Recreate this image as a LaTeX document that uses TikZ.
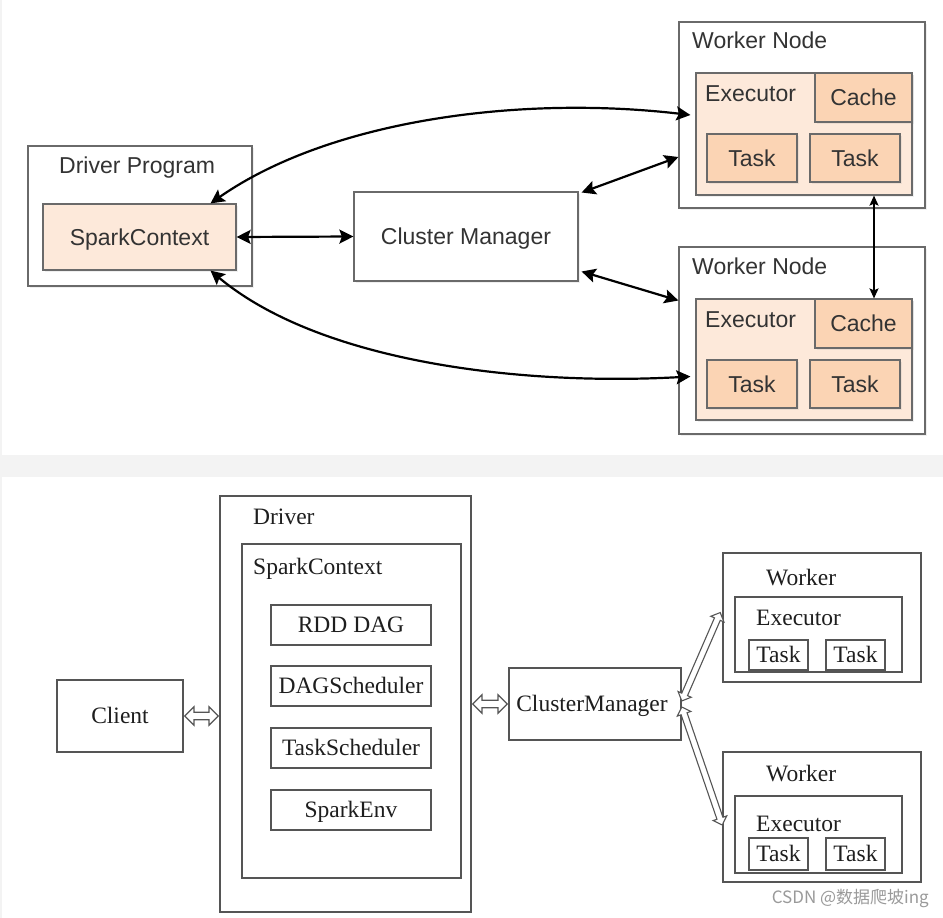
\documentclass[tikz,border=0pt]{standalone}
\usepackage{fontspec}
\setmainfont{Liberation Serif}
\setsansfont{Liberation Sans}
\newfontfamily\cjkfont{Noto Sans CJK SC}
\usetikzlibrary{arrows.meta,calc,shadows,shapes.arrows}
\definecolor{bandgray}{HTML}{F3F3F3}
\definecolor{topline}{HTML}{6A6A6A}
\definecolor{botline}{HTML}{555555}
\definecolor{toptext}{HTML}{333333}
\definecolor{bottext}{HTML}{1E1E1E}
\definecolor{peachlight}{HTML}{FDE9DA}
\definecolor{peachdark}{HTML}{FBD4B4}
\definecolor{wmark}{HTML}{9A9A9A}
\tikzset{
  topfont/.style={font=\sffamily\fontsize{23pt}{27pt}\selectfont, text=toptext},
  botfont/.style={font=\rmfamily\fontsize{23.5pt}{27pt}\selectfont, text=bottext},
  topbox/.style={draw=topline, line width=1.2pt, fill=white, inner sep=0pt,
     topfont, text height=16.5pt, text depth=0pt,
     drop shadow={shadow xshift=1.5pt, shadow yshift=-2pt, opacity=0.12}},
  execbox/.style={topbox, fill=peachlight},
  taskbox/.style={topbox, fill=peachdark},
  botbox/.style={draw=botline, line width=1.5pt, fill=white, inner sep=0pt,
     botfont, text height=15.5pt, text depth=0pt},
  toplabel/.style={topfont, anchor=base west, inner sep=0pt},
  botlabel/.style={botfont, anchor=base west, inner sep=0pt},
  solidarrow/.style={line width=2.2pt, black,
     {Stealth[length=14pt,width=14pt,inset=2.5pt]}-{Stealth[length=14pt,width=14pt,inset=2.5pt]}},
  thinarrow/.style={line width=1.6pt, black,
     {Stealth[length=10pt,width=9pt,inset=2pt]}-{Stealth[length=10pt,width=9pt,inset=2pt]}},
  hollowarr/.style={double arrow, draw=botline, fill=white, line width=1.1pt,
     inner sep=3.2pt, double arrow head extend=5.5pt, double arrow tip angle=90},
  hollowthin/.style={hollowarr, inner sep=2.6pt, double arrow head extend=4pt},
}
\begin{document}
\begin{tikzpicture}[x=1pt,y=-1pt]
% background and panels
\fill[bandgray] (0,0) rectangle (943,918);
\fill[white] (2,0) rectangle (943,455);
\fill[white] (2,477) rectangle (943,918);
\useasboundingbox (0,0) rectangle (943,918);

% ---------------- top panel ----------------
\node[topbox, minimum width=224pt, minimum height=140pt] (dp) at (140,216) {};
\node[toplabel] (dplab) at (59,173) {Driver Program};
\node[execbox, minimum width=193pt, minimum height=66pt] (sc) at (139.5,237) {SparkContext};

\node[topbox, minimum width=224pt, minimum height=89pt] (cm) at (466,236.5) {Cluster Manager};

\node[topbox, minimum width=246pt, minimum height=186pt] (w1) at (802,115) {};
\node[toplabel] (w1lab) at (692,48) {Worker Node};
\node[execbox, minimum width=216pt, minimum height=122pt] (e1) at (804,134) {};
\node[toplabel] (e1lab) at (705,101) {Executor};
\node[taskbox, minimum width=97pt, minimum height=49pt] (c1) at (863.5,97.5) {Cache};
\node[taskbox, minimum width=90pt, minimum height=48pt] (t11) at (752,158) {Task};
\node[taskbox, minimum width=90pt, minimum height=48pt] (t12) at (855,158) {Task};

\node[topbox, minimum width=246pt, minimum height=187pt] (w2) at (802,340.5) {};
\node[toplabel] (w2lab) at (692,274) {Worker Node};
\node[execbox, minimum width=216pt, minimum height=121pt] (e2) at (804,359.5) {};
\node[toplabel] (e2lab) at (705,327) {Executor};
\node[taskbox, minimum width=97pt, minimum height=49pt] (c2) at (863.5,323.5) {Cache};
\node[taskbox, minimum width=90pt, minimum height=48pt] (t21) at (752,384) {Task};
\node[taskbox, minimum width=90pt, minimum height=48pt] (t22) at (855,384) {Task};

% top connectors
\draw[solidarrow] (sc.east) -- (cm.west);
\draw[solidarrow] ($(cm.east)+(3,-44)$) -- ($(w1.west)+(0,42)$);
\draw[solidarrow] ($(cm.east)+(3,35)$) -- ($(w2.west)+(0,-40)$);
\draw[solidarrow] ($(sc.north)+(71,0)$) .. controls (330,120) and (520,95) .. ($(e1.west)+(-5,-19)$);
\draw[solidarrow] ($(sc.south)+(71,0)$) .. controls (320,362) and (520,386) .. ($(e2.west)+(-5,17)$);
\coordinate (vtop) at ($(e1.south)+(70,0)$);
\draw[thinarrow] (vtop) -- (vtop |- c2.north);

% ---------------- bottom panel ----------------
\node[botbox, minimum width=126pt, minimum height=72pt] (client) at (120,716) {Client};

\node[botbox, minimum width=251pt, minimum height=416pt] (drv) at (345.5,704) {};
\node[botlabel] (drvlab) at (253,524) {Driver};
\node[botbox, minimum width=219pt, minimum height=334pt] (spc) at (351.5,711) {};
\node[botlabel] (spclab) at (253,574) {SparkContext};
\node[botbox, minimum width=160pt, minimum height=40pt] (rdd) at (351,625) {RDD DAG};
\node[botbox, minimum width=160pt, minimum height=40pt] (dag) at (351,686) {DAGScheduler};
\node[botbox, minimum width=160pt, minimum height=40pt] (tsk) at (351,748) {TaskScheduler};
\node[botbox, minimum width=160pt, minimum height=40pt] (env) at (351,810) {SparkEnv};

\node[botbox, minimum width=172pt, minimum height=72pt] (cmb) at (595,704) {};
\node[botfont, inner sep=0pt, text height=15.5pt, text depth=0pt] (cmblab) at (592,704) {ClusterManager};

\node[botbox, minimum width=198pt, minimum height=129pt] (wk1) at (822,617.5) {};
\node[botlabel] (wk1lab) at (766,585) {Worker};
\node[botbox, minimum width=167pt, minimum height=75pt] (ex1) at (818.5,634.5) {};
\node[botlabel] (ex1lab) at (756,625) {Executor};
\node[botbox, minimum width=59pt, minimum height=30pt] (tk11) at (778.5,655) {Task};
\node[botbox, minimum width=59pt, minimum height=30pt] (tk12) at (855.5,655) {Task};

\node[botbox, minimum width=198pt, minimum height=130pt] (wk2) at (822,817) {};
\node[botlabel] (wk2lab) at (766,781) {Worker};
\node[botbox, minimum width=167pt, minimum height=77pt] (ex2) at (818.5,834.5) {};
\node[botlabel] (ex2lab) at (756,831) {Executor};
\node[botbox, minimum width=59pt, minimum height=32pt] (tk21) at (778.5,854) {Task};
\node[botbox, minimum width=59pt, minimum height=32pt] (tk22) at (855.5,854) {Task};

% bottom connectors (hollow double arrows)
\coordinate (ha1a) at ($(client.east)+(1,0)$);
\coordinate (ha1b) at ($(client.east -| drv.west)+(-1,0)$);
\coordinate (ha2a) at ($(drv.east)+(1,0)$);
\coordinate (ha2b) at ($(cmb.west)+(-1,0)$);
\coordinate (ha3a) at ($(cmb.east)+(0,-3)$);
\coordinate (ha3b) at ($(wk1.west)+(-2,-5)$);
\coordinate (ha4a) at ($(cmb.east)+(0,3)$);
\coordinate (ha4b) at ($(wk2.west)+(0,8)$);
\path let \p1=(ha1a), \p2=(ha1b), \p3=($(\p2)-(\p1)$), \n1={veclen(\x3,\y3)}, \n2={atan2(\y3,\x3)} in
  node[hollowarr, minimum height=\n1, rotate=\n2] (ha1) at ($(\p1)!0.5!(\p2)$) {};
\path let \p1=(ha2a), \p2=(ha2b), \p3=($(\p2)-(\p1)$), \n1={veclen(\x3,\y3)}, \n2={atan2(\y3,\x3)} in
  node[hollowarr, minimum height=\n1, rotate=\n2] (ha2) at ($(\p1)!0.5!(\p2)$) {};
\path let \p1=(ha3a), \p2=(ha3b), \p3=($(\p2)-(\p1)$), \n1={veclen(\x3,\y3)}, \n2={atan2(\y3,\x3)} in
  node[hollowthin, minimum height=\n1, rotate=\n2] (ha3) at ($(\p1)!0.5!(\p2)$) {};
\path let \p1=(ha4a), \p2=(ha4b), \p3=($(\p2)-(\p1)$), \n1={veclen(\x3,\y3)}, \n2={atan2(\y3,\x3)} in
  node[hollowthin, minimum height=\n1, rotate=\n2] (ha4) at ($(\p1)!0.5!(\p2)$) {};

% watermark
\node[font=\cjkfont\fontsize{17pt}{20pt}\selectfont, text=wmark, anchor=east, inner sep=0pt] (wm) at (929,898) {CSDN @数据爬坡ing};
\end{tikzpicture}
\end{document}
